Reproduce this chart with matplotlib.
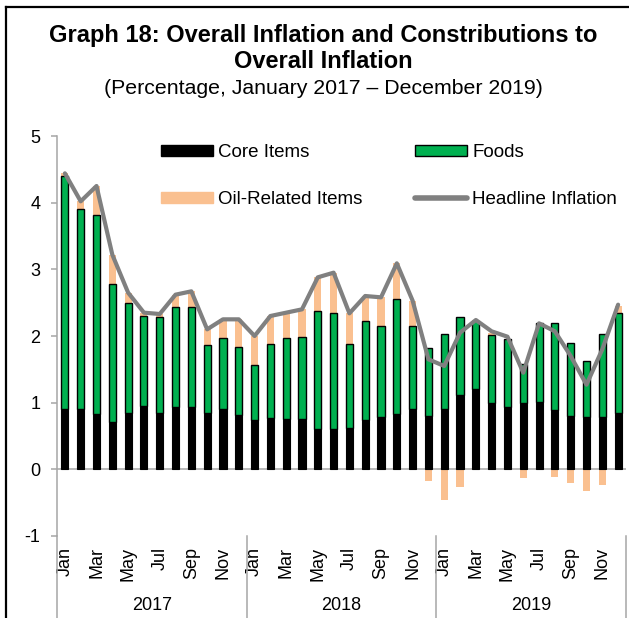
import matplotlib
matplotlib.use("Agg")
import matplotlib.pyplot as plt
import numpy as np
from matplotlib.lines import Line2D
from matplotlib.patches import Patch
from matplotlib.transforms import blended_transform_factory

plt.rcParams['font.family'] = ['Liberation Sans', 'DejaVu Sans']
plt.rcParams['axes.unicode_minus'] = False

months = ["Jan", "Feb", "Mar", "Apr", "May", "Jun",
          "Jul", "Aug", "Sep", "Oct", "Nov", "Dec"]
years = ["2017", "2018", "2019"]

# contributions to headline inflation (percentage points)
core = [0.91, 0.90, 0.83, 0.71, 0.84, 0.95, 0.84, 0.93, 0.93, 0.84, 0.90, 0.81,
        0.74, 0.77, 0.76, 0.75, 0.61, 0.61, 0.62, 0.74, 0.79, 0.83, 0.91, 0.80,
        0.91, 1.11, 1.20, 0.99, 0.93, 0.99, 1.01, 0.89, 0.80, 0.78, 0.79, 0.85]
foods = [3.49, 3.00, 2.98, 2.07, 1.66, 1.35, 1.44, 1.50, 1.50, 1.03, 1.07, 1.02,
         0.82, 1.11, 1.21, 1.24, 1.76, 1.73, 1.26, 1.49, 1.36, 1.73, 1.24, 1.02,
         1.12, 1.18, 1.02, 1.02, 1.02, 0.59, 1.19, 1.30, 1.10, 0.84, 1.24, 1.50]
oil = [0.04, 0.12, 0.44, 0.44, 0.15, 0.05, 0.05, 0.19, 0.24, 0.23, 0.28, 0.42,
       0.44, 0.42, 0.38, 0.41, 0.51, 0.61, 0.46, 0.37, 0.43, 0.53, 0.38, -0.18,
       -0.46, -0.27, 0.02, 0.04, 0.00, -0.13, -0.01, -0.12, -0.20, -0.33, -0.23, 0.10]
headline = [4.44, 4.02, 4.25, 3.22, 2.65, 2.35, 2.33, 2.62, 2.67, 2.10, 2.25, 2.25,
            2.00, 2.30, 2.35, 2.40, 2.88, 2.95, 2.34, 2.60, 2.58, 3.09, 2.53, 1.65,
            1.55, 2.05, 2.24, 2.07, 1.99, 1.45, 2.19, 2.07, 1.70, 1.27, 1.80, 2.47]

C_CORE = "#000000"
C_FOOD = "#00B050"
C_OIL = "#FAC090"
C_HEAD = "#808080"
C_AXIS = "#A6A6A6"

W, H = 629, 618
fig = plt.figure(figsize=(W / 100, H / 100), dpi=100)
ax = fig.add_axes([57 / W, 1 - 536 / H, (626 - 57) / W, (536 - 136) / H])

x = np.arange(len(core))
core_a = np.array(core)
food_a = np.array(foods)
oil_a = np.array(oil)
oil_bottom = np.where(oil_a >= 0, core_a + food_a, 0.0)

bw = 0.45
ax.bar(x, core_a, width=bw, color=C_CORE, edgecolor=C_CORE, linewidth=0.8, zorder=2)
ax.bar(x, food_a, bottom=core_a, width=bw, color=C_FOOD, edgecolor="black",
       linewidth=1.0, zorder=2)
ax.bar(x, oil_a, bottom=oil_bottom, width=bw, color=C_OIL, linewidth=0, zorder=1)
ax.plot(x, headline, color=C_HEAD, linewidth=3.0, solid_capstyle="round",
        solid_joinstyle="round", zorder=3)

ax.set_xlim(-0.5, len(core) - 0.5)
ax.set_ylim(-1, 5)
ax.set_yticks(range(-1, 6))
ax.axhline(0, color=C_AXIS, linewidth=1.1, zorder=1.5)

for s in ["top", "right", "bottom"]:
    ax.spines[s].set_visible(False)
ax.spines["left"].set_color(C_AXIS)
ax.spines["left"].set_linewidth(1.1)
ax.tick_params(axis="y", direction="out", length=4, width=1.1, color=C_AXIS,
               labelsize=13, pad=8)

tick_pos = x[::2]
tick_lab = [months[i % 12] for i in tick_pos]
ax.set_xticks(tick_pos)
ax.set_xticklabels(tick_lab, rotation=90, fontsize=13)
ax.tick_params(axis="x", length=0, pad=8)

# year group separators and labels below the axis
trans = blended_transform_factory(ax.transData, fig.transFigure)
bottom_frac = 1 - 536 / H
for k in range(len(years) + 1):
    xs = k * 12 - 0.5
    ax.plot([xs, xs], [0, bottom_frac], transform=trans, color=C_AXIS,
            linewidth=1.1, clip_on=False)
for k, yr in enumerate(years):
    ax.text(k * 12 + 5.5, 1 - 606 / H, yr, transform=trans, ha="center",
            va="center", fontsize=13)

handles = [
    Patch(facecolor=C_CORE, edgecolor=C_CORE, label="Core Items"),
    Patch(facecolor=C_OIL, edgecolor=C_OIL, label="Oil-Related Items"),
    Patch(facecolor=C_FOOD, edgecolor="black", linewidth=1.0, label="Foods"),
    Line2D([0], [0], color=C_HEAD, linewidth=4, solid_capstyle="round",
           label="Headline Inflation"),
]
fig.legend(handles=handles, ncol=2, loc="upper left",
           bbox_to_anchor=(161 / W, 1 - 144 / H), frameon=False,
           fontsize=13.5, handlelength=2.75, handleheight=0.5,
           handletextpad=0.3, columnspacing=2.8, labelspacing=1.62,
           borderpad=0, borderaxespad=0)

fig.text(323 / W, 1 - 48.5 / H,
         "Graph 18: Overall Inflation and Constributions to\nOverall Inflation",
         ha="center", va="center", fontsize=17, fontweight="bold",
         linespacing=1.12)
fig.text(323 / W, 1 - 89 / H, "(Percentage, January 2017 \u2013 December 2019)",
         ha="center", va="center", fontsize=15.3)

# outer frame (top and left edges)
fig.add_artist(Line2D([6 / W, 6 / W], [0, 1 - 7 / H], color="black",
                      linewidth=1.6, transform=fig.transFigure))
fig.add_artist(Line2D([6 / W, 1], [1 - 7 / H, 1 - 7 / H], color="black",
                      linewidth=1.6, transform=fig.transFigure))

fig.savefig("out.png", dpi=100)
